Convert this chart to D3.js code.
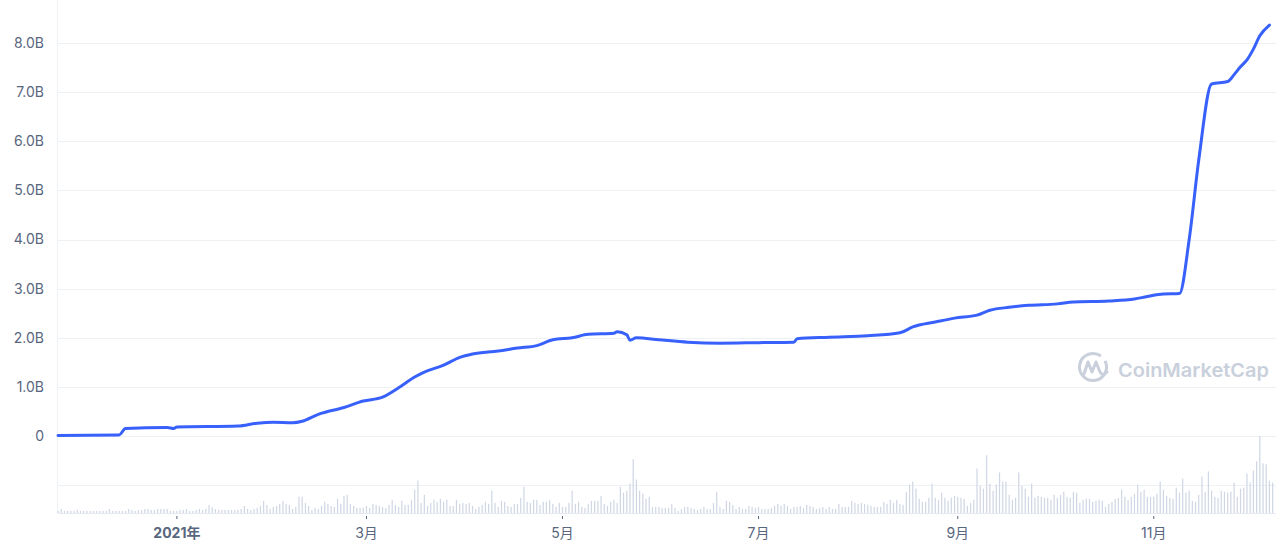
<!DOCTYPE html>
<html>
<head>
<meta charset="utf-8">
<script src="https://cdn.jsdelivr.net/npm/d3@7"></script>
<style>
  body { margin: 0; background: #fff; }
  text { font-family: Inter, "Noto Sans CJK SC", sans-serif; }
</style>
</head>
<body>
<svg id="chart"></svg>
<script>
const width = 1276
const height = 550
const margins = { top: 0, right: 2, bottom: 37, left: 58 }

// market cap line (billions USD)
const priceDates = [
  "2020-11-25","2020-12-14","2020-12-16","2020-12-29","2020-12-31","2021-01-01","2021-01-20","2021-01-26",
  "2021-01-31","2021-02-06","2021-02-09","2021-02-14","2021-02-22","2021-02-28","2021-03-06","2021-03-11",
  "2021-03-16","2021-03-19","2021-03-25","2021-03-30","2021-04-03","2021-04-11","2021-04-17","2021-04-23",
  "2021-04-28","2021-05-04","2021-05-09","2021-05-17","2021-05-18","2021-05-21","2021-05-22","2021-05-24",
  "2021-05-31","2021-06-09","2021-06-19","2021-07-01","2021-07-12","2021-07-13","2021-07-23","2021-08-04",
  "2021-08-14","2021-08-18","2021-08-25","2021-08-31","2021-09-07","2021-09-11","2021-09-17","2021-09-23",
  "2021-10-02","2021-10-07","2021-10-18","2021-10-26","2021-10-30","2021-11-04","2021-11-09","2021-11-12",
  "2021-11-15","2021-11-19","2021-11-24","2021-11-26","2021-11-28","2021-11-30","2021-12-02","2021-12-04",
  "2021-12-07"
]
const priceValues = [
  0.01, 0.02, 0.15, 0.17, 0.15, 0.18, 0.20, 0.26,
  0.28, 0.27, 0.30, 0.44, 0.58, 0.71, 0.79, 0.98,
  1.20, 1.30, 1.44, 1.60, 1.67, 1.73, 1.79, 1.84,
  1.96, 2.00, 2.07, 2.09, 2.12, 2.06, 1.95, 2.00,
  1.96, 1.91, 1.89, 1.90, 1.91, 1.98, 2.01, 2.04,
  2.10, 2.22, 2.32, 2.40, 2.46, 2.56, 2.62, 2.66,
  2.69, 2.73, 2.75, 2.79, 2.84, 2.89, 2.90, 3.99,
  5.62, 7.17, 7.22, 7.36, 7.52, 7.66, 7.88, 8.15,
  8.37
]

// daily volume (relative units), one bar per day from volumeStart
const volumeStart = "2020-11-25"
const volumes = [
  2,4,2,2,2,2,3,2,2,2, 2,2,2,2,2,2,4,2,2,2, 2,2,4,3,2,3,3,4,4,3,
  3,4,4,4,4,2,2,2,3,3, 4,2,2,3,4,3,4,8,6,4, 3,3,3,3,3,3,3,4,7,4,
  3,4,5,7,12,8,4,6,7,9, 12,9,8,4,6,16,16,10,
  7,3,5,4,7,11,9,7,6,14, 9,17,18,9,7,5,5,5,7,5, 9,8,7,6,5,8,13,8,6,12,
  8,8,13,23,32,10,18,7,10,13, 11,14,11,13,7,7,13,9,10,9, 10,7,4,6,8,11,9,22,10,6,
  12,11,7,6,9,9,15,26,11,10, 13,13,8,11,11,
  13,9,6,10,6,6,10,22,9,11, 6,5,9,12,12,12,17,9,7,11, 13,10,26,20,22,29,53,33,22,19,
  14,16,6,6,6,5,5,5,9,5, 2,4,6,6,5,4,3,4,6,4, 4,10,21,6,4,12,11,8,4,6,
  4,4,7,6,5,6,4,4,4,5, 7,9,7,9,7,4,6,
  6,7,5,8,7,6,4,5,6,4, 6,4,4,9,6,6,6,12,10,9, 10,9,8,7,6,6,6,11,9,13,
  10,13,9,8,21,28,31,24,14,11, 11,15,29,15,13,20,15,12,15,17, 16,15,14,7,10,13,44,27,24,57,
  29,22,28,40,31,31,18,13,15,40, 27,24,16,29,15,17,
  16,15,15,13,18,15,18,21,16,15, 21,20,10,13,14,14,11,12,13,12, 6,9,11,14,15,23,16,13,16,19,
  28,21,23,16,16,16,19,31,23,17, 15,14,25,20,34,20,22,12,11,18, 36,21,41,22,16,15,22,21,20,21,
  30,16,24,25,39,30,42,51,76,49, 48,32,30
]

// axes
const yTickValues = [-1, 0, 1, 2, 3, 4, 5, 6, 7, 8]
const xTickDates = ["2021-01-01","2021-03-01","2021-05-01","2021-07-01","2021-09-01","2021-11-01"]
const xTickLabels = ["2021年","3月","5月","7月","9月","11月"]

const lineColor = "#3861fb"
const gridColor = "#eff2f5"
const labelColor = "#58667e"
const volColor = "#cfd6e4"

const parse = d3.utcParse("%Y-%m-%d")

const svg = d3.select("#chart")
  .attr("width", width)
  .attr("height", height)

const x = d3.scaleUtc()
  .domain([parse("2020-11-25"), d3.utcHour.offset(parse("2021-12-08"), 10)])
  .range([margins.left, width - margins.right])

const plotBottom = height - margins.bottom   // 513

const y = d3.scaleLinear()
  .domain([-1.57, 8.88])
  .range([plotBottom, margins.top])

const yVol = d3.scaleLinear()
  .domain([0, d3.max(volumes)])
  .range([plotBottom, y(0)])

// grid lines
svg.append("g")
  .selectAll("line")
  .data(yTickValues)
  .enter().append("line")
    .attr("x1", margins.left)
    .attr("x2", width)
    .attr("y1", d => Math.round(y(d)) + 0.5)
    .attr("y2", d => Math.round(y(d)) + 0.5)
    .attr("stroke", gridColor)
    .attr("stroke-width", 1)

// left and bottom frame
svg.append("line")
  .attr("x1", margins.left - 0.5).attr("x2", margins.left - 0.5)
  .attr("y1", 0).attr("y2", plotBottom)
  .attr("stroke", gridColor)
svg.append("line")
  .attr("x1", margins.left).attr("x2", width)
  .attr("y1", plotBottom + 0.5).attr("y2", plotBottom + 0.5)
  .attr("stroke", "#e6eaf0")

// y labels
svg.append("g")
  .selectAll("text")
  .data(yTickValues.filter(d => d >= 0))
  .enter().append("text")
    .attr("x", 44)
    .attr("y", d => y(d))
    .attr("dy", "0.35em")
    .attr("text-anchor", "end")
    .attr("font-size", "14px")
    .attr("fill", labelColor)
    .text(d => d === 0 ? "0" : d.toFixed(1) + "B")

// watermark
const wm = svg.append("g").attr("fill", "none").attr("stroke", "#c9d0dc")
wm.append("path")
  .attr("d", d3.arc()({ innerRadius: 13.5, outerRadius: 13.5, startAngle: 0.35 * Math.PI, endAngle: 2.2 * Math.PI }))
  .attr("transform", "translate(1093,367)")
  .attr("stroke-width", 3)
  .attr("stroke-linecap", "round")
wm.append("path")
  .attr("d", "M1084,374 L1088,362 L1092,372 L1096,362 L1100,372 Q1103,377 1107,372")
  .attr("stroke-width", 3)
  .attr("stroke-linecap", "round")
  .attr("stroke-linejoin", "round")
svg.append("text")
  .attr("x", 1118)
  .attr("y", 377)
  .attr("font-size", "19px")
  .attr("font-weight", 600)
  .attr("textLength", 151)
  .attr("lengthAdjust", "spacingAndGlyphs")
  .attr("fill", "#c9d0dc")
  .text("CoinMarketCap")

// volume bars
const vStart = parse(volumeStart)
svg.append("g")
  .selectAll("rect")
  .data(volumes)
  .enter().append("rect")
    .attr("x", (d, i) => x(d3.utcDay.offset(vStart, i)) - 0.6)
    .attr("width", 1.2)
    .attr("y", d => yVol(d))
    .attr("height", d => plotBottom - yVol(d))
    .attr("fill", volColor)

// market cap line
const priceData = priceDates.map((d, i) => ({ date: parse(d), value: priceValues[i] }))
const line = d3.line()
  .x(d => x(d.date))
  .y(d => y(d.value))
  .curve(d3.curveMonotoneX)

svg.append("path")
  .datum(priceData)
  .attr("d", line)
  .attr("fill", "none")
  .attr("stroke", lineColor)
  .attr("stroke-width", 3)
  .attr("stroke-linejoin", "round")
  .attr("stroke-linecap", "round")

// x ticks and labels
const xt = svg.append("g")
  .selectAll("g")
  .data(xTickDates)
  .enter().append("g")
    .attr("transform", d => "translate(" + x(parse(d)) + ",0)")
xt.append("line")
  .attr("y1", plotBottom + 3).attr("y2", plotBottom + 6)
  .attr("stroke", labelColor)
xt.append("text")
  .attr("y", 538)
  .attr("text-anchor", "middle")
  .attr("font-size", "14px")
  .attr("font-weight", (d, i) => i === 0 ? 700 : 400)
  .attr("fill", labelColor)
  .text((d, i) => xTickLabels[i])
</script>
</body>
</html>
